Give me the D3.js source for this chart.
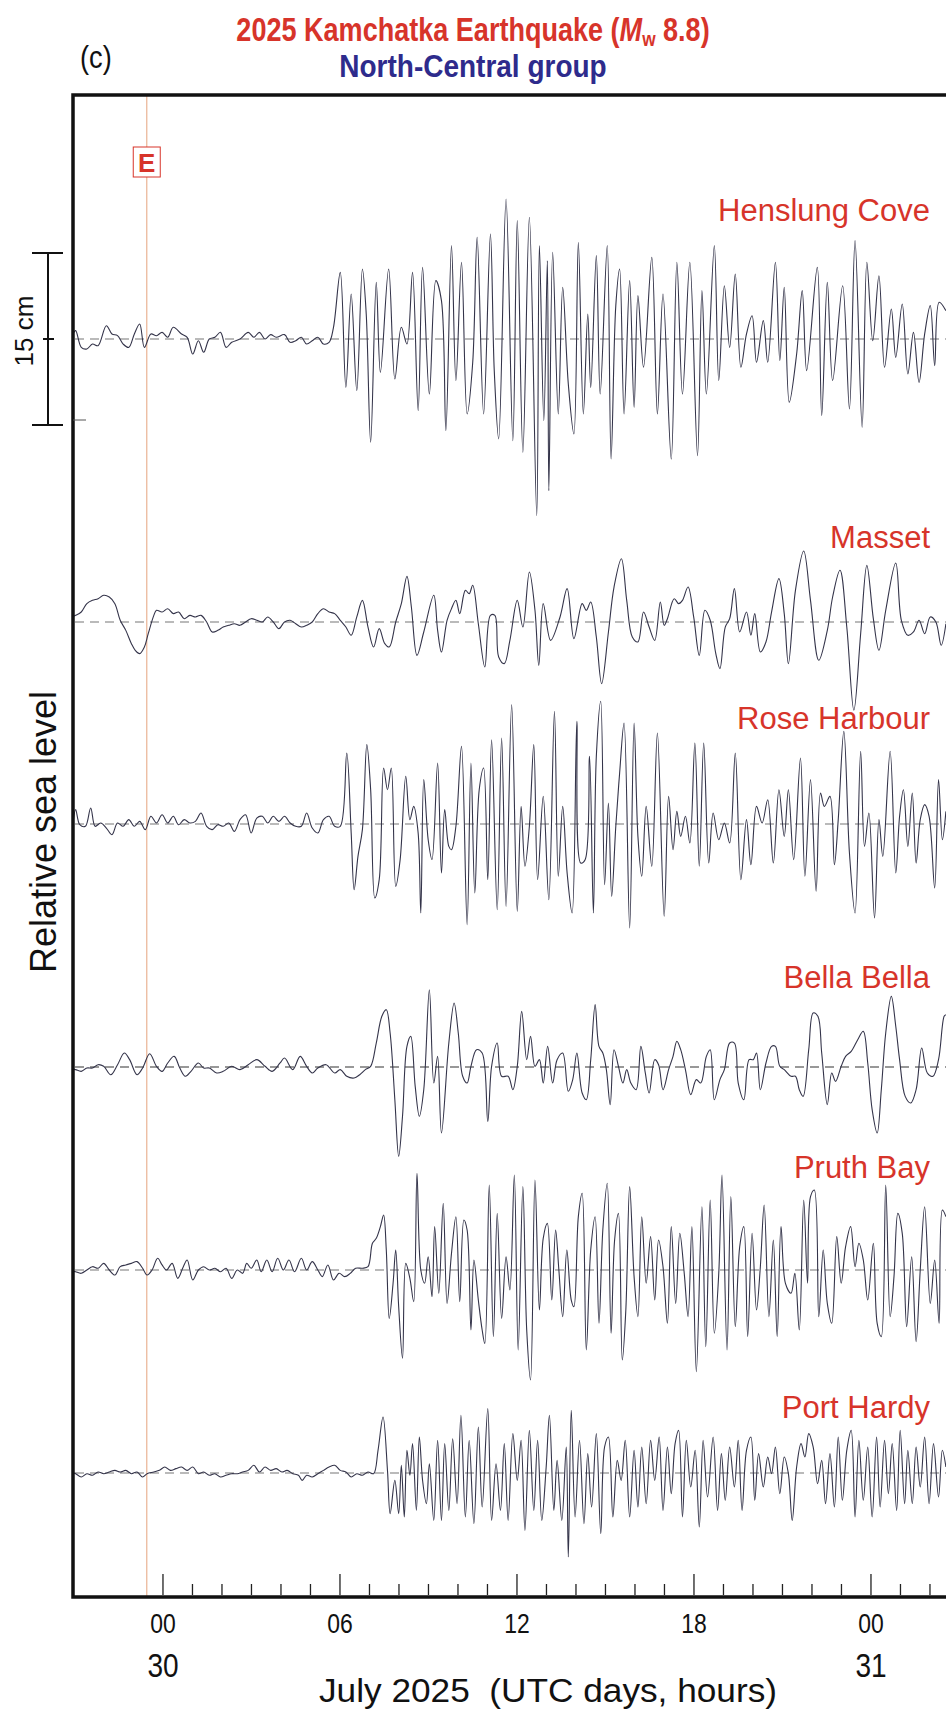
<!DOCTYPE html>
<html>
<head>
<meta charset="utf-8">
<script src="https://cdn.jsdelivr.net/npm/d3@7"></script>
<style>
  body { margin: 0; background: #fff; }
  svg { display: block; font-family: "Liberation Sans", Arial, sans-serif; }
</style>
</head>
<body>
<svg id="chart"></svg>
<script>
// time in hours from 00 UTC 30 July 2025, sea level in cm
const stations = ["Henslung Cove", "Masset", "Rose Harbour", "Bella Bella", "Pruth Bay", "Port Hardy"];
const quakeTime = -0.55;
const hourTicks = d3.range(0, 27);
const hourLabelTimes = [0, 6, 12, 18, 24];
const hourLabels = ["00", "06", "12", "18", "00"];
const dayLabelTimes = [0, 24];
const dayLabels = ["30", "31"];
const scaleBarCm = 15;

const henslung = [[-3.04,0.5],[-2.96,0.73],[-2.77,-0.73],[-2.58,-0.87],[-2.39,-0.44],[-2.20,-0.58],[-1.92,1.16],[-1.73,0.44],[-1.54,0.29],[-1.35,-0.44],[-1.16,-0.73],[-0.97,0.44],[-0.79,1.31],[-0.63,-0.73],[-0.41,0.44],[-0.22,0.29],[-0.03,0.58],[0.16,0.15],[0.35,1.02],[0.63,0.44],[0.82,0.15],[1.01,-1.31],[1.20,-0.15],[1.38,-1.16],[1.57,0],[1.76,0.15],[1.95,0.58],[2.14,-0.73],[2.33,-0.29],[2.61,0],[2.89,0.58],[3.08,0.15],[3.27,0.58],[3.46,0],[3.65,0.38],[3.84,0.15],[4.12,0.38],[4.31,-0.29],[4.50,-0.15],[4.69,0.15],[4.87,-0.44],[5.06,-0.15],[5.25,0.15],[5.44,-0.44],[5.63,-0.29],[5.78,1.02],
  [6.01,5.81],[6.20,-4.22],[6.38,3.92],[6.57,-4.51],[6.76,6.10],[6.89,2.18],[7.04,-9.01],[7.23,4.94],[7.37,-2.91],[7.65,6.10],[7.86,-3.49],[8.08,1.02],[8.27,-0.44],[8.46,5.81],[8.65,-6.25],[8.80,6.25],[9.03,-4.80],[9.25,5.09],[9.44,3.34],[9.59,-7.99],[9.78,8.14],[9.93,-3.63],[10.12,6.69],[10.31,-6.54],[10.50,-2.03],[10.65,8.87],[10.87,-6.54],[11.10,9.16],[11.23,-2.76],[11.38,-8.72],[11.63,12.21],[11.86,-8.87],[12.01,10.32],[12.20,-9.88],[12.42,10.61],[12.67,-15.41],[12.76,8.14],[12.91,-7.12],[13.03,6.83],[13.08,-13.23],[13.21,7.56],[13.40,-6.54],[13.55,4.51],[13.74,-3.92],[13.93,-8.28],[14.08,8.43],[14.25,-6.54],[14.40,2.18],[14.50,-4.22],[14.69,7.27],[14.82,-4.80],[15.06,8.14],[15.19,-10.47],[15.35,2.91],[15.48,6.10],[15.63,-6.54],[15.82,5.09],[15.97,-5.96],[16.10,3.78],[16.29,-2.47],[16.57,7.12],[16.76,-6.54],[16.95,3.92],[17.23,-10.47],[17.42,6.69],[17.61,-4.80],[17.86,6.69],[18.12,-10.17],[18.27,4.22],[18.42,-4.80],[18.69,8.14],[18.84,-3.63],[19.03,4.65],[19.21,-0.73],[19.40,5.67],[19.59,-2.47],[19.78,0.44],[19.97,2.03],[20.12,-2.03],[20.35,1.60],[20.50,-2.03],[20.76,6.69],[20.91,-1.89],[21.06,4.51],[21.23,-5.52],[21.48,-1.31],[21.67,4.22],[21.82,-2.76],[22.18,6.25],[22.33,-6.69],[22.52,4.94],[22.70,-3.63],[23.04,4.65],[23.27,-6.10],[23.46,8.58],[23.70,-7.70],[23.86,6.69],[24.06,-0.15],[24.27,5.52],[24.46,-2.47],[24.69,2.62],[24.84,-1.60],[25.06,3.05],[25.25,-3.05],[25.44,0.58],[25.63,-3.78],[25.82,0.44],[26.01,2.91],[26.16,-2.33],[26.31,3.20],[26.54,2.47]];

const masset = [[-3.04,0.5],[-2.96,0.58],[-2.77,0.87],[-2.58,1.60],[-2.39,1.89],[-2.20,2.03],[-2.01,2.33],[-1.82,2.18],[-1.63,1.60],[-1.45,0.15],[-1.26,-0.73],[-1.07,-1.89],[-0.94,-2.47],[-0.79,-2.76],[-0.63,-2.18],[-0.50,-1.02],[-0.31,0.58],[-0.22,1.02],[-0.03,0.87],[0.16,1.16],[0.35,0.73],[0.53,0.87],[0.72,0.29],[0.91,0.58],[1.10,0.44],[1.29,0.58],[1.48,0],[1.67,-0.87],[1.86,-0.73],[2.04,-0.44],[2.23,-0.29],[2.42,-0.15],[2.61,-0.29],[2.80,0],[2.99,0.29],[3.18,0.15],[3.37,0],[3.55,0.44],[3.74,0],[3.93,-0.58],[4.12,0],[4.31,0.15],[4.50,-0.15],[4.69,-0.44],[4.87,-0.29],[5.06,0],[5.25,0.73],[5.44,1.16],[5.63,0.87],[5.82,0.73],[6.01,0.15],[6.20,-0.44],[6.38,-1.16],
  [6.57,0.44],[6.76,1.89],[6.95,-0.44],[7.14,-2.18],[7.33,-0.58],[7.52,-1.89],[7.67,-2.18],[7.89,0],[8.08,1.60],[8.27,3.98],[8.42,1.31],[8.61,-2.91],[8.84,-0.87],[9.18,2.33],[9.31,-0.73],[9.44,-2.62],[9.63,0.15],[9.78,1.16],[9.93,1.89],[10.06,0.73],[10.25,2.76],[10.38,2.47],[10.50,3.20],[10.69,-0.15],[10.91,-3.92],[11.10,0.58],[11.25,0.58],[11.38,-3.05],[11.57,-3.63],[11.76,-1.60],[12.01,1.89],[12.20,-0.44],[12.42,4.36],[12.61,1.02],[12.74,-3.78],[12.89,1.60],[13.14,-1.60],[13.46,0.44],[13.70,2.91],[13.93,-1.45],[14.21,1.60],[14.35,1.02],[14.50,1.74],[14.69,-1.31],[14.87,-5.38],[15.10,-0.87],[15.29,3.05],[15.54,5.52],[15.72,1.89],[15.91,-1.31],[16.10,-1.74],[16.29,0.87],[16.48,-0.44],[16.67,-1.60],[16.86,1.74],[16.99,-0.29],[17.10,0.29],[17.33,2.03],[17.48,1.60],[17.61,1.89],[17.80,3.05],[17.99,0.44],[18.18,-2.91],[18.37,1.02],[18.55,0.15],[18.74,-2.76],[18.88,-4.07],[19.06,-0.44],[19.21,0.29],[19.37,2.91],[19.55,-0.87],[19.78,0.87],[19.93,-1.16],[20.06,0.73],[20.25,-2.62],[20.44,-1.74],[20.63,0.87],[20.88,3.78],[21.06,0.73],[21.20,-3.63],[21.44,2.76],[21.72,6.19],[21.95,1.89],[22.23,-3.34],[22.52,-0.73],[22.70,2.18],[22.95,4.51],[23.18,-0.44],[23.42,-7.70],[23.65,-1.02],[23.86,4.94],[24.08,0.29],[24.27,-2.47],[24.50,1.02],[24.84,5.15],[25.03,0.15],[25.25,-1.16],[25.44,-0.87],[25.63,0.15],[25.82,-1.02],[26.01,0.44],[26.20,0],[26.38,-2.03],[26.54,-0.15]];

const roseHarbour = [[-3.04,0.3],[-2.96,1.25],[-2.82,-0.06],[-2.63,-0.20],[-2.45,1.40],[-2.30,-0.20],[-2.11,0.09],[-1.92,-0.35],[-1.73,-0.93],[-1.54,0.09],[-1.35,-0.20],[-1.16,0.38],[-0.97,-0.20],[-0.79,0.23],[-0.60,-0.49],[-0.41,0.67],[-0.22,0.09],[-0.03,0.81],[0.16,0.09],[0.35,0.67],[0.53,-0.06],[0.72,0.38],[0.91,0.09],[1.10,0.23],[1.29,0.96],[1.48,-0.20],[1.67,-0.49],[1.86,-0.06],[2.04,-0.20],[2.23,0.09],[2.42,-0.64],[2.61,0.38],[2.80,0.81],[2.99,-0.78],[3.18,0.52],[3.37,0.67],[3.55,0.09],[3.74,0.67],[3.93,0.23],[4.12,0.67],[4.31,0.09],[4.50,-0.20],[4.69,-0.20],[4.87,0.96],[5.06,-0.35],[5.25,-0.78],[5.44,0.38],[5.63,0.67],[5.82,-0.20],[6.01,-0.20],
  [6.23,6.19],[6.38,-0.78],[6.48,-5.73],[6.61,-2.82],[6.76,-0.49],[6.91,6.92],[7.04,2.99],[7.18,-6.45],[7.33,-4.85],[7.48,4.88],[7.61,2.99],[7.74,4.88],[7.89,-5.44],[8.04,-3.11],[8.23,4.16],[8.37,0.38],[8.50,1.54],[8.65,-0.78],[8.74,-7.76],[8.84,3.87],[8.99,-1.37],[9.12,-3.11],[9.31,5.32],[9.44,-4.27],[9.55,1.25],[9.69,-1.95],[9.78,-2.24],[9.93,-0.20],[10.12,6.77],[10.31,-8.78],[10.44,5.32],[10.57,-6.02],[10.72,2.99],[10.87,4.88],[11.01,-4.85],[11.14,7.35],[11.33,-7.47],[11.48,7.50],[11.63,-7.18],[11.82,10.41],[12.01,-7.62],[12.14,1.54],[12.27,-3.69],[12.42,-0.20],[12.57,6.92],[12.70,-4.85],[12.89,2.41],[13.08,-6.60],[13.27,9.83],[13.40,-4.56],[13.55,1.54],[13.70,-4.27],[13.87,-7.76],[14.03,8.95],[14.16,-3.40],[14.31,-3.11],[14.46,5.90],[14.59,-7.76],[14.69,5.90],[14.84,10.70],[14.97,-5.29],[15.10,1.83],[15.21,-6.31],[15.35,-0.20],[15.48,4.45],[15.63,8.81],[15.82,-9.07],[15.97,8.81],[16.10,-1.08],[16.23,-4.56],[16.38,1.54],[16.57,-3.69],[16.76,7.94],[16.99,-8.05],[17.14,2.41],[17.29,-2.24],[17.42,1.10],[17.55,-1.08],[17.71,0.67],[17.86,-1.66],[18.03,7.06],[18.18,-3.69],[18.33,7.06],[18.50,-3.40],[18.65,0.96],[18.84,-1.37],[19.03,0.09],[19.21,-1.66],[19.40,6.19],[19.59,-4.85],[19.78,0.38],[19.93,-3.55],[20.12,1.54],[20.31,0.09],[20.50,2.12],[20.69,-3.40],[20.88,2.99],[21.06,-1.08],[21.20,2.99],[21.38,-3.11],[21.61,5.76],[21.76,-4.56],[21.95,3.87],[22.14,-5.87],[22.29,2.70],[22.42,1.54],[22.61,2.41],[22.76,-3.55],[22.89,0.38],[23.08,8.08],[23.27,-2.53],[23.46,-7.76],[23.65,6.34],[23.78,-1.95],[23.93,0.96],[24.12,-8.20],[24.27,0.38],[24.40,-2.82],[24.65,6.34],[24.84,-4.27],[24.97,0.67],[25.10,2.99],[25.25,-1.95],[25.40,2.70],[25.53,-3.40],[25.67,0.38],[25.82,1.69],[25.97,0.67],[26.16,-5.58],[26.29,3.87],[26.42,-1.37],[26.54,1.10]];

const bellaBella = [[-3.04,-0.2],[-2.96,-0.23],[-2.77,-0.38],[-2.58,-0.09],[-2.39,-0.09],[-2.20,0.20],[-2.01,0.06],[-1.77,-0.67],[-1.54,0.20],[-1.31,1.22],[-1.13,0.64],[-0.88,-0.67],[-0.69,-0.09],[-0.45,1.16],[-0.22,0.06],[-0.03,-0.38],[0.16,0.35],[0.38,0.93],[0.57,-0.09],[0.76,-0.81],[0.95,-0.38],[1.20,0.35],[1.38,-0.09],[1.57,-0.09],[1.82,-0.52],[2.04,-0.38],[2.33,0.06],[2.61,-0.23],[2.89,0.20],[3.18,0.64],[3.46,0.06],[3.70,-0.38],[3.97,0.35],[4.12,0.78],[4.40,-0.23],[4.65,0.93],[4.87,0.06],[5.06,-0.52],[5.25,-0.09],[5.53,0.20],[5.82,-0.52],[6.01,-0.23],[6.23,-0.81],[6.48,-0.96],[6.67,-0.67],[6.86,-0.23],[7.04,0.06],
  [7.23,2.09],[7.42,4.42],[7.57,5.00],[7.70,2.97],[7.86,-2.85],[7.99,-7.79],[8.12,-4.30],[8.27,1.80],[8.40,2.67],[8.55,-1.69],[8.69,-4.30],[8.84,-1.98],[9.03,6.74],[9.18,-1.40],[9.31,0.93],[9.44,-5.76],[9.69,2.09],[9.87,5.58],[10.01,2.97],[10.16,-0.81],[10.31,-1.40],[10.44,0.06],[10.63,1.51],[10.82,1.22],[11.01,-4.74],[11.14,0.06],[11.33,2.09],[11.48,-0.81],[11.70,-0.81],[11.86,-1.98],[12.01,0.06],[12.16,4.85],[12.33,0.64],[12.46,2.67],[12.61,0.06],[12.76,0.64],[12.89,-1.40],[13.04,1.80],[13.21,-1.40],[13.36,0.64],[13.55,1.22],[13.74,-2.12],[13.89,-1.10],[14.03,1.22],[14.21,-2.27],[14.35,-2.85],[14.50,0.64],[14.65,5.44],[14.78,1.80],[14.91,1.22],[15.03,-0.23],[15.16,-3.28],[15.29,1.51],[15.44,0.06],[15.59,-1.40],[15.72,-0.23],[15.86,-1.40],[16.04,-1.98],[16.20,1.80],[16.35,-0.52],[16.48,-2.27],[16.67,0.64],[16.80,0.20],[16.95,-1.98],[17.14,-0.23],[17.29,0.93],[17.42,2.24],[17.55,1.51],[17.71,-0.23],[17.89,-2.41],[18.08,-1.10],[18.23,-1.40],[18.42,0.93],[18.55,1.51],[18.69,-2.85],[18.88,-1.10],[19.03,-0.23],[19.21,2.09],[19.37,2.09],[19.50,-1.40],[19.69,-2.85],[19.87,0.64],[20.01,0.64],[20.12,1.22],[20.25,-1.98],[20.44,0.35],[20.63,1.80],[20.76,1.80],[20.91,0.06],[21.06,-0.23],[21.29,-0.81],[21.44,-0.81],[21.57,-1.98],[21.70,-2.56],[21.89,1.51],[22.04,4.71],[22.20,4.42],[22.33,1.22],[22.52,-3.28],[22.67,-0.52],[22.80,-1.25],[22.99,0.06],[23.14,0.93],[23.33,1.37],[23.55,2.38],[23.74,3.11],[23.89,0.35],[24.04,-3.72],[24.21,-5.76],[24.35,-1.98],[24.50,2.97],[24.69,6.16],[24.84,3.55],[24.97,0.64],[25.16,-2.56],[25.35,-3.14],[25.53,-1.98],[25.72,1.66],[25.91,-0.52],[26.10,-0.81],[26.29,0.64],[26.48,4.42],[26.54,4.56]];

const pruthBay = [[-3.04,-0.1],[-2.96,-0.15],[-2.77,-0.29],[-2.58,0],[-2.39,0.29],[-2.20,0.15],[-2.01,0.58],[-1.82,0],[-1.63,-0.44],[-1.45,0.29],[-1.26,0.44],[-1.07,0.58],[-0.88,0.73],[-0.69,0.15],[-0.54,-0.44],[-0.37,0],[-0.18,1.02],[-0.03,0.44],[0.12,0],[0.31,0.58],[0.50,-0.73],[0.69,0.29],[0.82,0.87],[1.01,-0.87],[1.20,0],[1.38,0.29],[1.57,0],[1.76,0.15],[1.95,-0.15],[2.14,0.15],[2.33,-0.73],[2.52,0],[2.70,-0.29],[2.84,0.58],[2.99,0.15],[3.18,0.87],[3.33,-0.15],[3.52,0.87],[3.70,-0.15],[3.89,1.02],[4.08,0],[4.27,0.87],[4.46,-0.15],[4.69,1.02],[4.87,0],[5.06,0.73],[5.25,0],[5.40,-0.58],[5.59,0.44],[5.78,-0.87],[5.97,-0.29],[6.16,-0.58],[6.35,-0.29],[6.53,0.15],[6.76,0.15],[6.95,0.29],[7.10,2.33],[7.23,2.76],[7.37,3.78],[7.48,4.80],
  [7.57,1.74],[7.67,-4.22],[7.80,-1.16],[7.89,1.74],[7.99,-3.20],[8.12,-7.70],[8.23,0.58],[8.37,-0.73],[8.50,-2.76],[8.61,8.43],[8.74,0],[8.87,-1.16],[8.99,1.16],[9.12,-2.33],[9.21,3.78],[9.35,-2.03],[9.50,5.81],[9.63,-2.91],[9.78,1.45],[9.93,4.65],[10.06,-2.76],[10.20,4.36],[10.31,3.49],[10.44,-5.23],[10.54,0.87],[10.69,-2.62],[10.82,-5.23],[10.91,-6.40],[11.06,7.41],[11.20,-5.81],[11.33,4.94],[11.48,-4.22],[11.63,1.16],[11.76,-1.74],[11.91,8.28],[12.04,-6.98],[12.20,7.27],[12.33,-5.23],[12.46,-9.59],[12.61,7.85],[12.76,-3.49],[12.89,2.76],[13.03,4.07],[13.18,-2.62],[13.31,3.49],[13.42,0],[13.55,-4.07],[13.69,1.74],[13.84,-2.62],[13.93,-3.20],[14.08,4.65],[14.21,6.69],[14.35,-6.98],[14.50,1.74],[14.65,4.65],[14.78,-4.65],[14.91,3.49],[15.06,7.56],[15.19,-5.52],[15.31,2.62],[15.44,4.94],[15.57,-7.85],[15.69,-3.49],[15.82,7.27],[15.97,-0.58],[16.10,-4.07],[16.23,4.65],[16.38,-1.16],[16.53,2.91],[16.67,-2.62],[16.80,2.62],[16.95,0.29],[17.10,-4.65],[17.23,3.78],[17.38,-2.91],[17.52,3.20],[17.67,-0.29],[17.80,-4.07],[17.93,3.78],[18.08,-8.87],[18.27,5.52],[18.40,-6.69],[18.55,6.10],[18.69,-5.52],[18.84,-0.29],[18.95,8.28],[19.12,-6.98],[19.25,6.40],[19.40,-4.94],[19.55,2.03],[19.69,3.78],[19.82,-5.81],[19.97,3.20],[20.12,-3.49],[20.25,0.29],[20.38,5.67],[20.54,-4.07],[20.69,2.62],[20.82,-5.81],[20.95,3.78],[21.10,-1.16],[21.29,-2.03],[21.42,-0.29],[21.57,-5.23],[21.72,6.10],[21.85,-1.16],[21.95,6.40],[22.08,6.98],[22.23,-4.07],[22.38,1.74],[22.52,-2.91],[22.67,-4.65],[22.84,2.91],[22.99,-1.16],[23.14,2.03],[23.31,3.78],[23.46,0.29],[23.59,2.33],[23.74,0.87],[23.89,-2.62],[24.08,2.33],[24.21,-4.65],[24.35,-5.81],[24.50,7.41],[24.65,-4.07],[24.78,-0.58],[24.91,4.94],[25.06,3.20],[25.21,-4.94],[25.38,1.16],[25.53,-6.25],[25.67,0],[25.82,5.52],[26.01,-2.91],[26.16,0.87],[26.31,-4.65],[26.42,5.23],[26.54,4.65]];

const portHardy = [[-3.04,0],[-2.96,-0.06],[-2.77,-0.35],[-2.58,-0.06],[-2.39,-0.20],[-2.20,0.09],[-2.01,-0.06],[-1.82,0.09],[-1.63,0.23],[-1.45,0.09],[-1.26,0.23],[-1.07,-0.06],[-0.88,0.09],[-0.69,-0.35],[-0.54,-0.06],[-0.31,0.09],[-0.12,0.23],[0.06,0.52],[0.25,0.23],[0.44,0.38],[0.63,0.52],[0.82,0.23],[1.01,0.52],[1.20,-0.06],[1.38,0.09],[1.57,-0.20],[1.76,-0.06],[1.95,-0.35],[2.14,-0.20],[2.33,-0.06],[2.52,-0.06],[2.70,0.09],[2.89,0.23],[3.08,0.67],[3.27,0.09],[3.46,0.52],[3.65,0.23],[3.84,0.38],[4.03,0.09],[4.21,0.23],[4.40,-0.06],[4.59,-0.20],[4.72,-0.64],[4.87,-0.20],[5.06,-0.35],[5.25,-0.06],[5.44,0.23],[5.63,0.52],[5.82,0.67],[6.01,0.23],[6.20,0.09],[6.38,-0.35],[6.57,-0.06],[6.76,-0.20],[6.95,0.09],[7.14,-0.06],
  [7.29,1.98],[7.46,4.88],[7.61,0.23],[7.70,-3.55],[7.86,-0.64],[7.99,-3.55],[8.08,0.67],[8.18,-3.84],[8.27,1.98],[8.37,-0.20],[8.46,2.56],[8.59,-3.26],[8.69,3.14],[8.80,-0.64],[8.93,-2.67],[9.03,0.81],[9.18,-4.13],[9.31,2.85],[9.44,-4.13],[9.55,2.56],[9.69,-3.26],[9.82,2.99],[9.97,-2.67],[10.10,5.03],[10.25,-3.84],[10.38,2.85],[10.54,-4.42],[10.69,4.01],[10.82,-2.97],[11.01,5.61],[11.14,-4.13],[11.29,0.81],[11.44,-3.26],[11.57,2.56],[11.70,-4.13],[11.86,3.43],[12.01,-0.64],[12.14,2.85],[12.27,-5.00],[12.42,3.72],[12.57,-3.26],[12.70,2.85],[12.84,-4.13],[12.99,0.52],[13.10,5.03],[13.25,-3.26],[13.36,1.10],[13.52,-4.13],[13.67,2.27],[13.74,-7.33],[13.84,5.47],[13.97,-3.84],[14.12,2.85],[14.27,-4.42],[14.40,1.69],[14.53,-2.97],[14.69,3.43],[14.84,-5.29],[14.97,2.27],[15.10,3.14],[15.25,-3.84],[15.40,1.10],[15.53,-0.64],[15.67,2.85],[15.82,-3.84],[15.97,1.98],[16.10,-2.97],[16.23,2.27],[16.38,-2.67],[16.53,2.85],[16.67,-0.64],[16.82,3.14],[16.95,-3.26],[17.10,2.27],[17.23,-1.80],[17.36,2.56],[17.48,3.72],[17.61,-3.84],[17.74,2.85],[17.89,-1.22],[18.04,1.98],[18.18,-4.71],[18.31,2.85],[18.46,-2.09],[18.65,3.14],[18.80,-3.26],[18.93,1.69],[19.06,-2.38],[19.21,2.27],[19.37,-1.22],[19.50,2.85],[19.63,-3.26],[19.78,1.98],[19.93,3.14],[20.06,-2.38],[20.19,1.69],[20.35,-1.22],[20.50,1.40],[20.63,-0.06],[20.76,2.27],[20.91,-1.80],[21.06,1.40],[21.20,-0.06],[21.33,-4.13],[21.48,0.52],[21.63,2.56],[21.76,1.40],[21.89,3.43],[22.04,2.27],[22.19,-0.93],[22.33,1.10],[22.46,-2.67],[22.61,1.69],[22.76,-2.97],[22.89,3.14],[23.03,-2.38],[23.18,1.98],[23.33,3.72],[23.46,-3.84],[23.59,2.85],[23.74,-2.38],[23.89,2.27],[24.04,-3.84],[24.19,3.14],[24.31,-2.97],[24.46,2.85],[24.59,-1.80],[24.72,2.56],[24.87,-3.26],[24.99,3.72],[25.14,-2.67],[25.25,1.98],[25.40,-2.67],[25.53,2.27],[25.67,-1.22],[25.82,3.14],[25.97,-2.67],[26.12,2.56],[26.29,-2.09],[26.42,1.98],[26.54,0.52]];

const traces = [henslung, masset, roseHarbour, bellaBella, pruthBay, portHardy];

// layout
const W = 946, H = 1713;
const frame = {left: 73, top: 95, bottom: 1597};
const baseY = [339, 622, 824, 1067, 1270, 1473];
const labelY = [221, 548, 729, 988, 1178, 1418];
const red = "#d7342a";

let svg = d3.select("#chart").attr("width", W).attr("height", H);
svg.append("rect").attr("width", W).attr("height", H).attr("fill", "#fff");

let x = d3.scaleLinear().domain([-3.05, 27]).range([frame.left, frame.left + 30.05 * 29.5]);
let amp = d3.scaleLinear().domain([-15, 15]).range([172, -172]);

svg.append("defs").append("clipPath").attr("id", "plot")
    .append("rect")
    .attr("x", frame.left + 1).attr("y", frame.top + 1)
    .attr("width", W - frame.left).attr("height", frame.bottom - frame.top - 2);

let plot = svg.append("g").attr("clip-path", "url(#plot)");

// earthquake time
plot.append("line")
    .attr("x1", x(quakeTime)).attr("x2", x(quakeTime))
    .attr("y1", frame.top).attr("y2", frame.bottom)
    .attr("stroke", "#ebb89c").attr("stroke-width", 1.3);

// zero lines
plot.selectAll(".zero")
    .data(baseY)
    .enter().append("line")
    .attr("class", "zero")
    .attr("x1", frame.left + 2).attr("x2", W)
    .attr("y1", d => d).attr("y2", d => d)
    .attr("stroke", (d, i) => i === 3 ? "#333" : "#777")
    .attr("stroke-width", 1.2)
    .attr("stroke-dasharray", "9,6");

// records
traces.forEach((data, i) => {
    let line = d3.line()
        .x(d => x(d[0]))
        .y(d => baseY[i] + amp(d[1]))
        .curve(d3.curveCatmullRom.alpha(0.5));
    plot.append("path")
        .datum(data)
        .attr("d", line)
        .attr("fill", "none")
        .attr("stroke", "#34344a")
        .attr("stroke-width", 1.1)
        .attr("stroke-linejoin", "round");
});

// station names
svg.selectAll(".station")
    .data(stations)
    .enter().append("text")
    .attr("class", "station")
    .attr("x", 930)
    .attr("y", (d, i) => labelY[i])
    .attr("text-anchor", "end")
    .attr("font-size", 31)
    .attr("fill", red)
    .text(d => d);

// E marker
let eg = svg.append("g").attr("transform", "translate(" + x(quakeTime) + ",162)");
eg.append("rect").attr("x", -13.5).attr("y", -15).attr("width", 27).attr("height", 30)
    .attr("fill", "#fff").attr("stroke", red).attr("stroke-width", 1);
eg.append("text").attr("y", 9.5).attr("text-anchor", "middle")
    .attr("font-size", 26).attr("font-weight", "bold").attr("fill", red).text("E");

// frame
svg.append("path")
    .attr("d", "M" + W + "," + frame.top + "H" + frame.left + "V" + frame.bottom + "H" + W)
    .attr("fill", "none").attr("stroke", "#111").attr("stroke-width", 3.5);

// small inner tick
svg.append("line").attr("x1", frame.left).attr("x2", frame.left + 13)
    .attr("y1", 420).attr("y2", 420).attr("stroke", "#555").attr("stroke-width", 1);

// hour ticks
svg.selectAll(".tick")
    .data(hourTicks)
    .enter().append("line")
    .attr("class", "tick")
    .attr("x1", d => x(d)).attr("x2", d => x(d))
    .attr("y1", frame.bottom - 2)
    .attr("y2", d => d % 6 === 0 ? frame.bottom - 23 : frame.bottom - 13)
    .attr("stroke", "#222").attr("stroke-width", 1.3);

svg.selectAll(".hlabel")
    .data(hourLabelTimes)
    .enter().append("text")
    .attr("class", "hlabel")
    .attr("transform", d => "translate(" + x(d) + ",1633) scale(0.85,1)")
    .attr("text-anchor", "middle")
    .attr("font-size", 27)
    .attr("fill", "#111")
    .text((d, i) => hourLabels[i]);

svg.selectAll(".dlabel")
    .data(dayLabelTimes)
    .enter().append("text")
    .attr("class", "dlabel")
    .attr("transform", d => "translate(" + x(d) + ",1677) scale(0.85,1)")
    .attr("text-anchor", "middle")
    .attr("font-size", 33)
    .attr("fill", "#111")
    .text((d, i) => dayLabels[i]);

svg.append("text")
    .attr("x", 548).attr("y", 1702)
    .attr("text-anchor", "middle")
    .attr("font-size", 34)
    .attr("textLength", 458).attr("lengthAdjust", "spacingAndGlyphs")
    .attr("fill", "#111")
    .text("July 2025 \u00a0(UTC days, hours)");

// y label
svg.append("text")
    .attr("transform", "translate(56,832) rotate(-90)")
    .attr("text-anchor", "middle")
    .attr("font-size", 36)
    .attr("fill", "#111")
    .text("Relative sea level");

// scale bar
let sb = svg.append("g").attr("stroke", "#111").attr("stroke-width", 2);
let sTop = baseY[0] + amp(scaleBarCm / 2), sBot = baseY[0] + amp(-scaleBarCm / 2);
sb.append("line").attr("x1", 48).attr("x2", 48).attr("y1", sTop).attr("y2", sBot);
sb.append("line").attr("x1", 32).attr("x2", 63).attr("y1", sTop).attr("y2", sTop);
sb.append("line").attr("x1", 32).attr("x2", 63).attr("y1", sBot).attr("y2", sBot);
sb.append("line").attr("x1", 43).attr("x2", 54).attr("y1", baseY[0]).attr("y2", baseY[0]);
svg.append("text")
    .attr("transform", "translate(33,331) rotate(-90)")
    .attr("text-anchor", "middle")
    .attr("font-size", 26)
    .attr("fill", "#111")
    .text(scaleBarCm + " cm");

// titles
let t1 = svg.append("text")
    .attr("transform", "translate(473,41) scale(0.82,1)")
    .attr("text-anchor", "middle")
    .attr("font-size", 33).attr("font-weight", "bold")
    .attr("fill", red);
t1.append("tspan").text("2025 Kamchatka Earthquake (");
t1.append("tspan").attr("font-style", "italic").text("M");
t1.append("tspan").attr("font-size", 21).attr("dy", 5).text("w");
t1.append("tspan").attr("dy", -5).text("\u00a08.8)");

svg.append("text")
    .attr("transform", "translate(473,77) scale(0.875,1)")
    .attr("text-anchor", "middle")
    .attr("font-size", 32).attr("font-weight", "bold")
    .attr("fill", "#2e2b8c")
    .text("North-Central group");

svg.append("text")
    .attr("transform", "translate(80,68) scale(0.85,1)")
    .attr("font-size", 32)
    .attr("fill", "#111")
    .text("(c)");
</script>
</body>
</html>
